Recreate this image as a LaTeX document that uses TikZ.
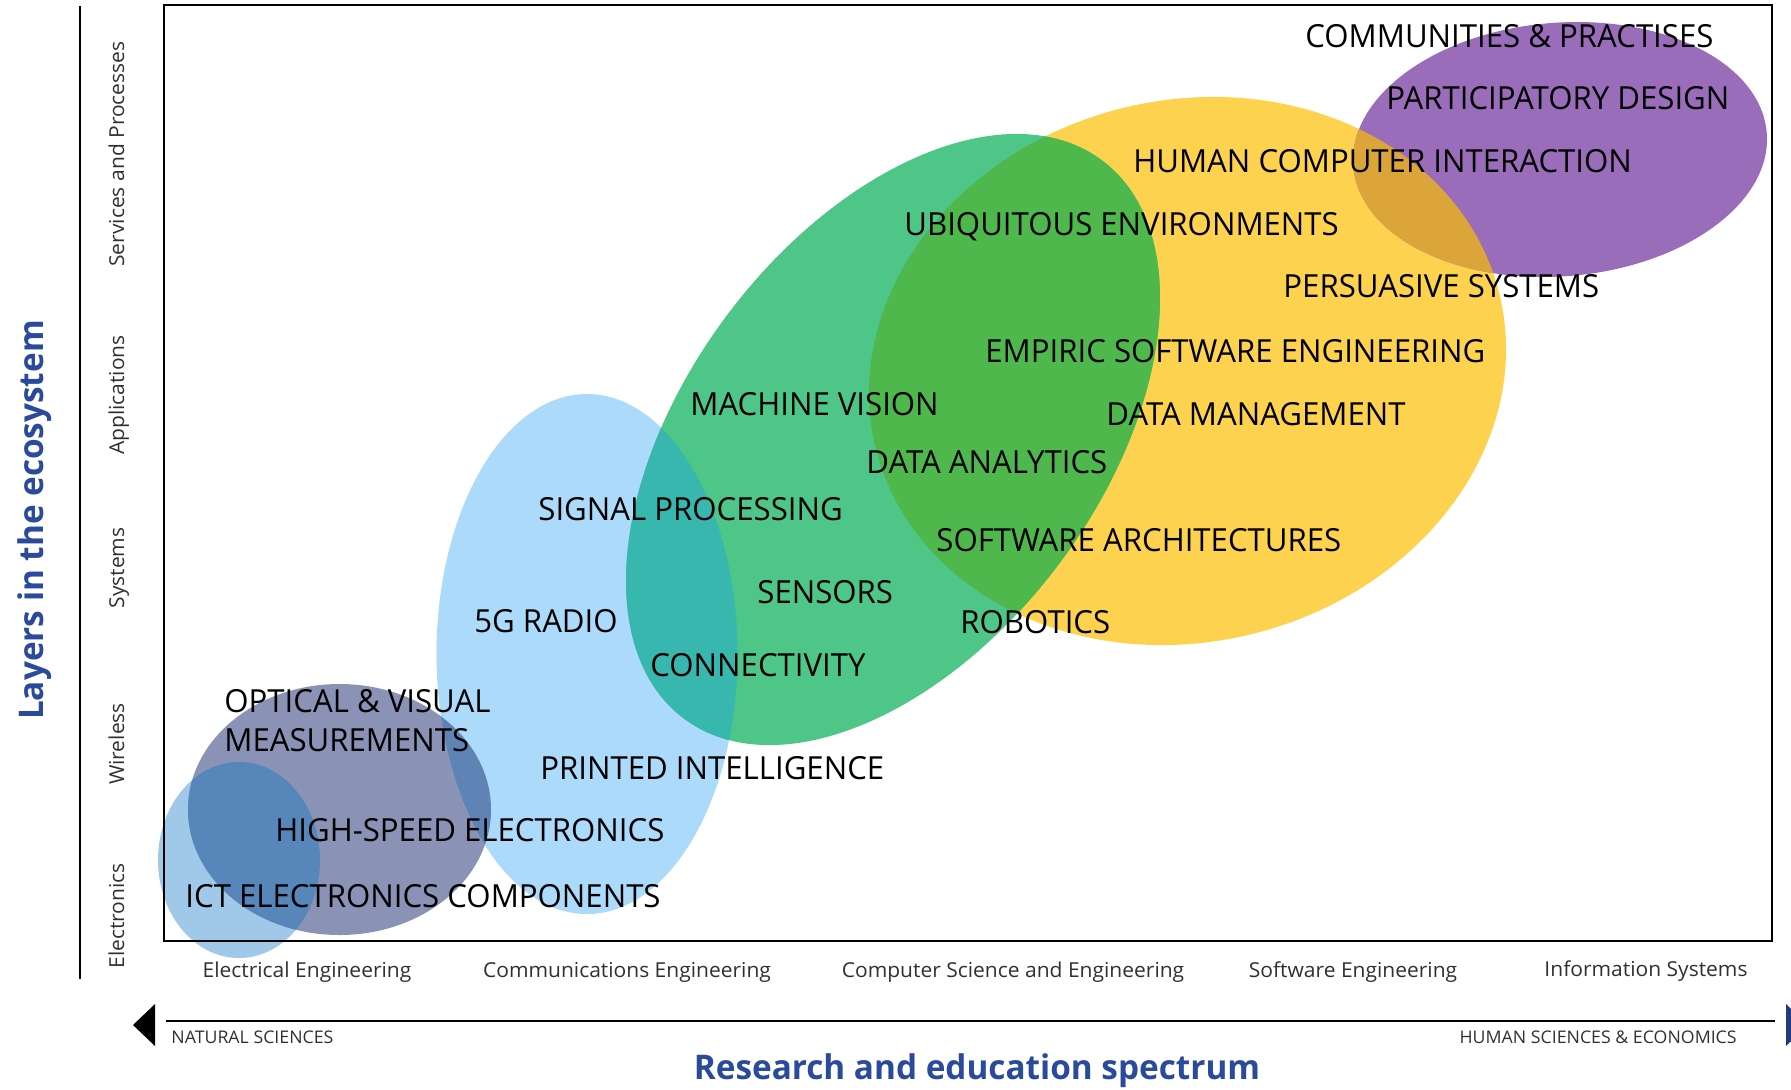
\documentclass[tikz,border=0pt]{standalone}
\usepackage{fontspec}
\setmainfont{Open Sans}[FakeStretch=0.98]
\newfontfamily\axfont{Open Sans}[FakeStretch=1.02]
\definecolor{cSmall}{HTML}{A0C8E8}
\definecolor{cSlate}{HTML}{8A92B5}
\definecolor{cBig}{HTML}{ABDAFA}
\definecolor{cGreen}{HTML}{4EC688}
\definecolor{cYellow}{HTML}{FDD24F}
\definecolor{cPurple}{HTML}{9A6DBA}
\definecolor{oSmallSlate}{HTML}{5787BA}
\definecolor{oSlateBig}{HTML}{6083B5}
\definecolor{oBigGreen}{HTML}{38B7AF}
\definecolor{oGreenYellow}{HTML}{4FB84D}
\definecolor{oYellowPurple}{HTML}{DCA53A}
\definecolor{navy}{HTML}{2A4A9B}
\definecolor{axgray}{HTML}{303030}
\begin{document}
\begin{tikzpicture}[x=0.5pt,y=-0.5pt,
  lbl/.style={anchor=base west, inner sep=0pt, font=\fontsize{15.9}{18}\selectfont, text=black},
  axl/.style={anchor=base, inner sep=0pt, font=\axfont\fontsize{10.3}{12}\selectfont, text=axgray},
  lay/.style={anchor=base, inner sep=0pt, rotate=90, font=\axfont\fontsize{10.3}{12}\selectfont, text=axgray},
  sci/.style={inner sep=0pt, font=\axfont\fontsize{8.7}{10}\selectfont, text=axgray},
  ttl/.style={inner sep=0pt, font=\fontsize{17}{20}\selectfont\bfseries, text=navy},
  rotG/.style={rotate around={53.15:(893,439.5)}},
  rotY/.style={rotate around={14:(1187.5,371)}},
  rotP/.style={rotate around={4.6:(1560,149.5)}},
  axline/.style={line width=1.25pt, black},
]
\useasboundingbox (0,0) rectangle (1791,1089);
\clip (0,0) rectangle (1791,1089);

% base ellipses
\fill[cSmall] (239,860) ellipse [x radius=81, y radius=98];
\fill[cSlate] (339.5,809.5) ellipse [x radius=151.5, y radius=125.5];
\fill[cBig] (587,654) ellipse [x radius=150.5, y radius=260];
\fill[cYellow, rotY] (1187.5,371) ellipse [x radius=321.2, y radius=270.8];
\fill[cGreen, rotG] (893,439.5) ellipse [x radius=348.7, y radius=207.4];
\fill[cPurple, rotP] (1560,149.5) ellipse [x radius=207.4, y radius=126.8];

% overlaps
\begin{scope}
  \clip (239,860) ellipse [x radius=81, y radius=98];
  \fill[oSmallSlate] (339.5,809.5) ellipse [x radius=151.5, y radius=125.5];
\end{scope}
\begin{scope}
  \clip (587,654) ellipse [x radius=150.5, y radius=260];
  \fill[oSlateBig] (339.5,809.5) ellipse [x radius=151.5, y radius=125.5];
\end{scope}
\begin{scope}
  \clip (587,654) ellipse [x radius=150.5, y radius=260];
  \fill[oBigGreen, rotG] (893,439.5) ellipse [x radius=348.7, y radius=207.4];
\end{scope}
\begin{scope}
  \clip[rotY] (1187.5,371) ellipse [x radius=321.2, y radius=270.8];
  \fill[oGreenYellow, rotG] (893,439.5) ellipse [x radius=348.7, y radius=207.4];
\end{scope}
\begin{scope}
  \clip[rotY] (1187.5,371) ellipse [x radius=321.2, y radius=270.8];
  \fill[oYellowPurple, rotP] (1560,149.5) ellipse [x radius=207.4, y radius=126.8];
\end{scope}

% frame and axes
\draw[axline] (164,5) rectangle (1772,941);
\coordinate (vtop) at (80,6);
\coordinate (vbot) at (80,979);
\draw[axline] (vtop) -- (vbot);
\coordinate (hl) at (166,1021);
\coordinate (hr) at (1775,1021);
\draw[axline] (hl) -- (hr);
\fill[black] (133,1025) -- (155,1004) -- (155,1046) -- cycle;
\fill[navy!80!black] (1786,1004) -- (1808,1025) -- (1786,1046) -- cycle;

% labels in ellipses
\node[lbl] (l1) at (1305,47) {COMMUNITIES \& PRACTISES};
\node[lbl] (l2) at (1386,109) {PARTICIPATORY DESIGN};
\node[lbl] (l3) at (1133,172) {HUMAN COMPUTER INTERACTION};
\node[lbl] (l4) at (904,235) {UBIQUITOUS ENVIRONMENTS};
\node[lbl] (l5) at (1283,297) {PERSUASIVE SYSTEMS};
\node[lbl] (l6) at (985,362) {EMPIRIC SOFTWARE ENGINEERING};
\node[lbl] (l7) at (690,415) {MACHINE VISION};
\node[lbl] (l8) at (1106,425) {DATA MANAGEMENT};
\node[lbl] (l9) at (866,473) {DATA ANALYTICS};
\node[lbl] (l10) at (538,520) {SIGNAL PROCESSING};
\node[lbl] (l11) at (936,551) {SOFTWARE ARCHITECTURES};
\node[lbl] (l12) at (757,603) {SENSORS};
\node[lbl] (l13) at (474,632) {5G RADIO};
\node[lbl] (l14) at (960,633) {ROBOTICS};
\node[lbl] (l15) at (650,676) {CONNECTIVITY};
\node[lbl] (l16) at (224,712) {OPTICAL \& VISUAL};
\node[lbl] (l17) at (224,751) {MEASUREMENTS};
\node[lbl] (l18) at (540,779) {PRINTED INTELLIGENCE};
\node[lbl] (l19) at (275,841) {HIGH-SPEED ELECTRONICS};
\node[lbl] (l20) at (185,907) {ICT ELECTRONICS COMPONENTS};

% column labels
\node[axl] (c1) at (307,977) {Electrical Engineering};
\node[axl] (c2) at (627,977) {Communications Engineering};
\node[axl] (c3) at (1013,977) {Computer Science and Engineering};
\node[axl] (c4) at (1353,977) {Software Engineering};
\node[axl] (c5) at (1646,976) {Information Systems};

% layer labels
\node[lay] (r1) at (124,154) {Services and Processes};
\node[lay] (r2) at (124,395) {Applications};
\node[lay] (r3) at (124,568) {Systems};
\node[lay] (r4) at (124,744) {Wireless};
\node[lay] (r5) at (124,916) {Electronics};

% spectrum ends
\node[sci, anchor=base west] (ns) at (171,1043) {NATURAL SCIENCES};
\node[sci, anchor=base east] (hs) at (1737,1043) {HUMAN SCIENCES \& ECONOMICS};

% titles
\node[ttl, anchor=base] (tb) at (977,1079) {Research and education spectrum};
\node[ttl, anchor=base, rotate=90] (tl) at (43,520) {Layers in the ecosystem};
\end{tikzpicture}
\end{document}
